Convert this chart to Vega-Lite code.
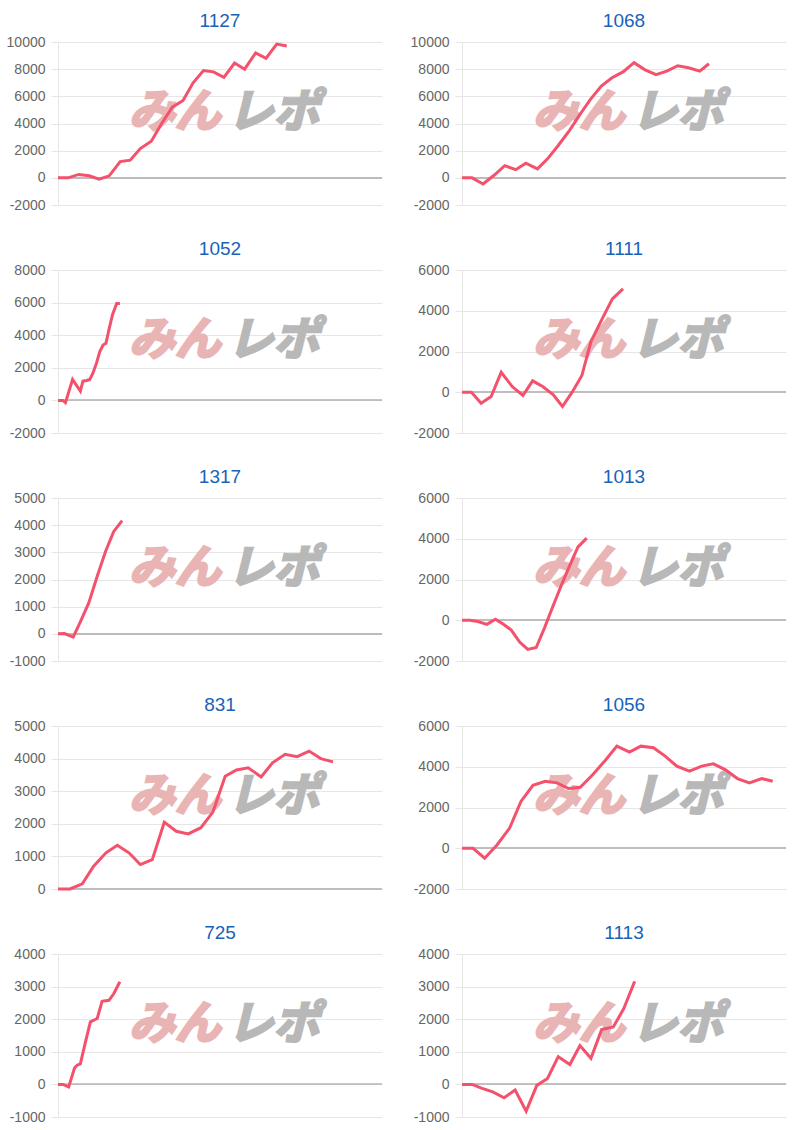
{
  "$schema": "https://vega.github.io/schema/vega-lite/v6.json",
  "padding": {"left": 5, "top": 12, "right": 5, "bottom": 0},
  "columns": 2,
  "spacing": {"row": 28, "column": 26},
  "data": {"values": [
    {"id":"1127","pos":0,"v":0},{"id":"1127","pos":3.1,"v":0},{"id":"1127","pos":6.4,"v":250},{"id":"1127","pos":9.6,"v":150},{"id":"1127","pos":12.7,"v":-100},{"id":"1127","pos":15.8,"v":150},{"id":"1127","pos":19.2,"v":1200},{"id":"1127","pos":22.3,"v":1300},{"id":"1127","pos":25.4,"v":2150},{"id":"1127","pos":28.8,"v":2700},{"id":"1127","pos":32.0,"v":4000},{"id":"1127","pos":35.3,"v":5200},{"id":"1127","pos":38.6,"v":5700},{"id":"1127","pos":41.7,"v":7000},{"id":"1127","pos":44.9,"v":7900},{"id":"1127","pos":48.0,"v":7800},{"id":"1127","pos":51.2,"v":7400},{"id":"1127","pos":54.5,"v":8450},{"id":"1127","pos":57.6,"v":8000},{"id":"1127","pos":61.0,"v":9200},{"id":"1127","pos":64.2,"v":8800},{"id":"1127","pos":67.5,"v":9850},{"id":"1127","pos":70.6,"v":9700},
    {"id":"1068","pos":0,"v":0},{"id":"1068","pos":3.1,"v":0},{"id":"1068","pos":6.5,"v":-450},{"id":"1068","pos":9.8,"v":170},{"id":"1068","pos":13.2,"v":900},{"id":"1068","pos":16.6,"v":600},{"id":"1068","pos":19.7,"v":1080},{"id":"1068","pos":23.3,"v":660},{"id":"1068","pos":26.4,"v":1400},{"id":"1068","pos":29.7,"v":2380},{"id":"1068","pos":33.2,"v":3500},{"id":"1068","pos":36.5,"v":4700},{"id":"1068","pos":39.7,"v":5800},{"id":"1068","pos":43.0,"v":6750},{"id":"1068","pos":46.3,"v":7370},{"id":"1068","pos":49.7,"v":7800},{"id":"1068","pos":53.1,"v":8480},{"id":"1068","pos":56.5,"v":7950},{"id":"1068","pos":59.9,"v":7600},{"id":"1068","pos":63.2,"v":7850},{"id":"1068","pos":66.6,"v":8250},{"id":"1068","pos":69.9,"v":8100},{"id":"1068","pos":73.4,"v":7850},{"id":"1068","pos":76.2,"v":8400},
    {"id":"1052","pos":0,"v":0},{"id":"1052","pos":1.5,"v":0},{"id":"1052","pos":2.3,"v":-140},{"id":"1052","pos":4.5,"v":1280},{"id":"1052","pos":6.9,"v":570},{"id":"1052","pos":7.7,"v":1180},{"id":"1052","pos":8.8,"v":1220},{"id":"1052","pos":9.8,"v":1280},{"id":"1052","pos":10.8,"v":1685},{"id":"1052","pos":11.9,"v":2300},{"id":"1052","pos":12.9,"v":3000},{"id":"1052","pos":13.9,"v":3400},{"id":"1052","pos":14.8,"v":3500},{"id":"1052","pos":15.8,"v":4400},{"id":"1052","pos":16.8,"v":5240},{"id":"1052","pos":18.1,"v":5950},{"id":"1052","pos":19.1,"v":5950},
    {"id":"1111","pos":0,"v":0},{"id":"1111","pos":2.9,"v":0},{"id":"1111","pos":5.9,"v":-540},{"id":"1111","pos":9.0,"v":-210},{"id":"1111","pos":12.1,"v":980},{"id":"1111","pos":15.5,"v":280},{"id":"1111","pos":18.8,"v":-160},{"id":"1111","pos":21.8,"v":560},{"id":"1111","pos":24.9,"v":280},{"id":"1111","pos":28.2,"v":-130},{"id":"1111","pos":31.0,"v":-700},{"id":"1111","pos":34.1,"v":30},{"id":"1111","pos":37.0,"v":820},{"id":"1111","pos":39.8,"v":2490},{"id":"1111","pos":43.1,"v":3550},{"id":"1111","pos":46.4,"v":4580},{"id":"1111","pos":49.7,"v":5070},
    {"id":"1317","pos":0,"v":0},{"id":"1317","pos":2.0,"v":10},{"id":"1317","pos":4.7,"v":-120},{"id":"1317","pos":7.0,"v":470},{"id":"1317","pos":9.5,"v":1140},{"id":"1317","pos":12.1,"v":2120},{"id":"1317","pos":14.7,"v":3040},{"id":"1317","pos":17.2,"v":3770},{"id":"1317","pos":19.8,"v":4170},
    {"id":"1013","pos":0,"v":0},{"id":"1013","pos":2.4,"v":0},{"id":"1013","pos":4.9,"v":-60},{"id":"1013","pos":7.7,"v":-200},{"id":"1013","pos":10.3,"v":50},{"id":"1013","pos":12.8,"v":-200},{"id":"1013","pos":15.2,"v":-480},{"id":"1013","pos":17.8,"v":-1070},{"id":"1013","pos":20.3,"v":-1430},{"id":"1013","pos":22.9,"v":-1340},{"id":"1013","pos":25.5,"v":-360},{"id":"1013","pos":28.1,"v":700},{"id":"1013","pos":30.6,"v":1690},{"id":"1013","pos":33.2,"v":2670},{"id":"1013","pos":35.8,"v":3600},{"id":"1013","pos":38.5,"v":4030},
    {"id":"831","pos":0,"v":0},{"id":"831","pos":3.7,"v":0},{"id":"831","pos":7.5,"v":160},{"id":"831","pos":11.0,"v":700},{"id":"831","pos":14.8,"v":1110},{"id":"831","pos":18.3,"v":1340},{"id":"831","pos":21.9,"v":1110},{"id":"831","pos":25.4,"v":750},{"id":"831","pos":29.1,"v":900},{"id":"831","pos":32.8,"v":2050},{"id":"831","pos":36.5,"v":1770},{"id":"831","pos":40.2,"v":1690},{"id":"831","pos":44.1,"v":1880},{"id":"831","pos":47.8,"v":2360},{"id":"831","pos":51.6,"v":3460},{"id":"831","pos":55.1,"v":3650},{"id":"831","pos":58.7,"v":3720},{"id":"831","pos":62.7,"v":3440},{"id":"831","pos":66.2,"v":3870},{"id":"831","pos":70.1,"v":4130},{"id":"831","pos":73.8,"v":4060},{"id":"831","pos":77.5,"v":4230},{"id":"831","pos":81.1,"v":4000},{"id":"831","pos":84.9,"v":3900},
    {"id":"1056","pos":0,"v":0},{"id":"1056","pos":3.4,"v":0},{"id":"1056","pos":7.0,"v":-490},{"id":"1056","pos":10.8,"v":160},{"id":"1056","pos":14.7,"v":990},{"id":"1056","pos":18.2,"v":2300},{"id":"1056","pos":21.9,"v":3090},{"id":"1056","pos":25.7,"v":3290},{"id":"1056","pos":29.3,"v":3210},{"id":"1056","pos":32.9,"v":2930},{"id":"1056","pos":36.5,"v":2990},{"id":"1056","pos":40.4,"v":3620},{"id":"1056","pos":44.2,"v":4310},{"id":"1056","pos":47.8,"v":5010},{"id":"1056","pos":51.7,"v":4720},{"id":"1056","pos":55.2,"v":5010},{"id":"1056","pos":59.1,"v":4930},{"id":"1056","pos":62.7,"v":4520},{"id":"1056","pos":66.3,"v":4030},{"id":"1056","pos":70.2,"v":3780},{"id":"1056","pos":74.0,"v":4030},{"id":"1056","pos":77.6,"v":4140},{"id":"1056","pos":81.2,"v":3860},{"id":"1056","pos":85.0,"v":3420},{"id":"1056","pos":88.7,"v":3210},{"id":"1056","pos":92.5,"v":3420},{"id":"1056","pos":95.9,"v":3290},
    {"id":"725","pos":0,"v":0},{"id":"725","pos":1.55,"v":0},{"id":"725","pos":3.3,"v":-80},{"id":"725","pos":5.1,"v":500},{"id":"725","pos":5.9,"v":590},{"id":"725","pos":6.9,"v":630},{"id":"725","pos":8.5,"v":1310},{"id":"725","pos":10.0,"v":1920},{"id":"725","pos":12.1,"v":2020},{"id":"725","pos":13.6,"v":2550},{"id":"725","pos":15.7,"v":2580},{"id":"725","pos":17.2,"v":2780},{"id":"725","pos":19.1,"v":3150},
    {"id":"1113","pos":0,"v":0},{"id":"1113","pos":3.1,"v":0},{"id":"1113","pos":6.2,"v":-120},{"id":"1113","pos":9.5,"v":-230},{"id":"1113","pos":13.0,"v":-410},{"id":"1113","pos":16.4,"v":-170},{"id":"1113","pos":19.8,"v":-820},{"id":"1113","pos":23.1,"v":-30},{"id":"1113","pos":26.4,"v":180},{"id":"1113","pos":29.7,"v":850},{"id":"1113","pos":33.3,"v":610},{"id":"1113","pos":36.4,"v":1190},{"id":"1113","pos":39.8,"v":800},{"id":"1113","pos":43.1,"v":1680},{"id":"1113","pos":46.7,"v":1760},{"id":"1113","pos":49.9,"v":2320},{"id":"1113","pos":53.3,"v":3160}
  ]},
  "concat": [
    {"title": "1127", "transform": [{"filter": "datum.id === '1127'"}], "layer": [
      {"transform": [{"filter": "datum.pos === 0"}], "mark": {"type": "text", "text": "みん", "font": "Noto Sans CJK JP", "fontSize": 46, "fontWeight": "bold", "fontStyle": "italic", "color": "#e9b4b4", "stroke": "#e9b4b4", "strokeWidth": 2.5, "baseline": "middle", "align": "center"}, "encoding": {"x": {"datum": 36, "type": "quantitative", "axis": null}, "y": {"datum": 4768, "type": "quantitative"}}},
      {"transform": [{"filter": "datum.pos === 0"}], "mark": {"type": "text", "text": "レポ", "font": "Noto Sans CJK JP", "fontSize": 46, "fontWeight": "bold", "fontStyle": "italic", "color": "#b8b8b8", "stroke": "#b8b8b8", "strokeWidth": 2.5, "baseline": "middle", "align": "center"}, "encoding": {"x": {"datum": 66.5, "type": "quantitative", "axis": null}, "y": {"datum": 4768, "type": "quantitative"}}},
      {"mark": {"type": "rule", "color": "#bdbdbd", "strokeWidth": 1}, "encoding": {"y": {"datum": 0, "type": "quantitative"}}},
      {"mark": {"type": "line", "color": "#f4516c", "strokeWidth": 3}, "encoding": {"x": {"field": "pos", "type": "quantitative", "scale": {"domain": [0, 100]}, "axis": null}, "y": {"field": "v", "type": "quantitative", "title": null, "scale": {"domain": [-2000, 10000], "nice": false, "zero": false}, "axis": {"values": [-2000, 0, 2000, 4000, 6000, 8000, 10000]}}}}
    ]},
    {"title": "1068", "transform": [{"filter": "datum.id === '1068'"}], "layer": [
      {"transform": [{"filter": "datum.pos === 0"}], "mark": {"type": "text", "text": "みん", "font": "Noto Sans CJK JP", "fontSize": 46, "fontWeight": "bold", "fontStyle": "italic", "color": "#e9b4b4", "stroke": "#e9b4b4", "strokeWidth": 2.5, "baseline": "middle", "align": "center"}, "encoding": {"x": {"datum": 36, "type": "quantitative", "axis": null}, "y": {"datum": 4768, "type": "quantitative"}}},
      {"transform": [{"filter": "datum.pos === 0"}], "mark": {"type": "text", "text": "レポ", "font": "Noto Sans CJK JP", "fontSize": 46, "fontWeight": "bold", "fontStyle": "italic", "color": "#b8b8b8", "stroke": "#b8b8b8", "strokeWidth": 2.5, "baseline": "middle", "align": "center"}, "encoding": {"x": {"datum": 66.5, "type": "quantitative", "axis": null}, "y": {"datum": 4768, "type": "quantitative"}}},
      {"mark": {"type": "rule", "color": "#bdbdbd", "strokeWidth": 1}, "encoding": {"y": {"datum": 0, "type": "quantitative"}}},
      {"mark": {"type": "line", "color": "#f4516c", "strokeWidth": 3}, "encoding": {"x": {"field": "pos", "type": "quantitative", "scale": {"domain": [0, 100]}, "axis": null}, "y": {"field": "v", "type": "quantitative", "title": null, "scale": {"domain": [-2000, 10000], "nice": false, "zero": false}, "axis": {"values": [-2000, 0, 2000, 4000, 6000, 8000, 10000]}}}}
    ]},
    {"title": "1052", "transform": [{"filter": "datum.id === '1052'"}], "layer": [
      {"transform": [{"filter": "datum.pos === 0"}], "mark": {"type": "text", "text": "みん", "font": "Noto Sans CJK JP", "fontSize": 46, "fontWeight": "bold", "fontStyle": "italic", "color": "#e9b4b4", "stroke": "#e9b4b4", "strokeWidth": 2.5, "baseline": "middle", "align": "center"}, "encoding": {"x": {"datum": 36, "type": "quantitative", "axis": null}, "y": {"datum": 3640, "type": "quantitative"}}},
      {"transform": [{"filter": "datum.pos === 0"}], "mark": {"type": "text", "text": "レポ", "font": "Noto Sans CJK JP", "fontSize": 46, "fontWeight": "bold", "fontStyle": "italic", "color": "#b8b8b8", "stroke": "#b8b8b8", "strokeWidth": 2.5, "baseline": "middle", "align": "center"}, "encoding": {"x": {"datum": 66.5, "type": "quantitative", "axis": null}, "y": {"datum": 3640, "type": "quantitative"}}},
      {"mark": {"type": "rule", "color": "#bdbdbd", "strokeWidth": 1}, "encoding": {"y": {"datum": 0, "type": "quantitative"}}},
      {"mark": {"type": "line", "color": "#f4516c", "strokeWidth": 3}, "encoding": {"x": {"field": "pos", "type": "quantitative", "scale": {"domain": [0, 100]}, "axis": null}, "y": {"field": "v", "type": "quantitative", "title": null, "scale": {"domain": [-2000, 8000], "nice": false, "zero": false}, "axis": {"values": [-2000, 0, 2000, 4000, 6000, 8000]}}}}
    ]},
    {"title": "1111", "transform": [{"filter": "datum.id === '1111'"}], "layer": [
      {"transform": [{"filter": "datum.pos === 0"}], "mark": {"type": "text", "text": "みん", "font": "Noto Sans CJK JP", "fontSize": 46, "fontWeight": "bold", "fontStyle": "italic", "color": "#e9b4b4", "stroke": "#e9b4b4", "strokeWidth": 2.5, "baseline": "middle", "align": "center"}, "encoding": {"x": {"datum": 36, "type": "quantitative", "axis": null}, "y": {"datum": 2512, "type": "quantitative"}}},
      {"transform": [{"filter": "datum.pos === 0"}], "mark": {"type": "text", "text": "レポ", "font": "Noto Sans CJK JP", "fontSize": 46, "fontWeight": "bold", "fontStyle": "italic", "color": "#b8b8b8", "stroke": "#b8b8b8", "strokeWidth": 2.5, "baseline": "middle", "align": "center"}, "encoding": {"x": {"datum": 66.5, "type": "quantitative", "axis": null}, "y": {"datum": 2512, "type": "quantitative"}}},
      {"mark": {"type": "rule", "color": "#bdbdbd", "strokeWidth": 1}, "encoding": {"y": {"datum": 0, "type": "quantitative"}}},
      {"mark": {"type": "line", "color": "#f4516c", "strokeWidth": 3}, "encoding": {"x": {"field": "pos", "type": "quantitative", "scale": {"domain": [0, 100]}, "axis": null}, "y": {"field": "v", "type": "quantitative", "title": null, "scale": {"domain": [-2000, 6000], "nice": false, "zero": false}, "axis": {"values": [-2000, 0, 2000, 4000, 6000]}}}}
    ]},
    {"title": "1317", "transform": [{"filter": "datum.id === '1317'"}], "layer": [
      {"transform": [{"filter": "datum.pos === 0"}], "mark": {"type": "text", "text": "みん", "font": "Noto Sans CJK JP", "fontSize": 46, "fontWeight": "bold", "fontStyle": "italic", "color": "#e9b4b4", "stroke": "#e9b4b4", "strokeWidth": 2.5, "baseline": "middle", "align": "center"}, "encoding": {"x": {"datum": 36, "type": "quantitative", "axis": null}, "y": {"datum": 2384, "type": "quantitative"}}},
      {"transform": [{"filter": "datum.pos === 0"}], "mark": {"type": "text", "text": "レポ", "font": "Noto Sans CJK JP", "fontSize": 46, "fontWeight": "bold", "fontStyle": "italic", "color": "#b8b8b8", "stroke": "#b8b8b8", "strokeWidth": 2.5, "baseline": "middle", "align": "center"}, "encoding": {"x": {"datum": 66.5, "type": "quantitative", "axis": null}, "y": {"datum": 2384, "type": "quantitative"}}},
      {"mark": {"type": "rule", "color": "#bdbdbd", "strokeWidth": 1}, "encoding": {"y": {"datum": 0, "type": "quantitative"}}},
      {"mark": {"type": "line", "color": "#f4516c", "strokeWidth": 3}, "encoding": {"x": {"field": "pos", "type": "quantitative", "scale": {"domain": [0, 100]}, "axis": null}, "y": {"field": "v", "type": "quantitative", "title": null, "scale": {"domain": [-1000, 5000], "nice": false, "zero": false}, "axis": {"values": [-1000, 0, 1000, 2000, 3000, 4000, 5000]}}}}
    ]},
    {"title": "1013", "transform": [{"filter": "datum.id === '1013'"}], "layer": [
      {"transform": [{"filter": "datum.pos === 0"}], "mark": {"type": "text", "text": "みん", "font": "Noto Sans CJK JP", "fontSize": 46, "fontWeight": "bold", "fontStyle": "italic", "color": "#e9b4b4", "stroke": "#e9b4b4", "strokeWidth": 2.5, "baseline": "middle", "align": "center"}, "encoding": {"x": {"datum": 36, "type": "quantitative", "axis": null}, "y": {"datum": 2512, "type": "quantitative"}}},
      {"transform": [{"filter": "datum.pos === 0"}], "mark": {"type": "text", "text": "レポ", "font": "Noto Sans CJK JP", "fontSize": 46, "fontWeight": "bold", "fontStyle": "italic", "color": "#b8b8b8", "stroke": "#b8b8b8", "strokeWidth": 2.5, "baseline": "middle", "align": "center"}, "encoding": {"x": {"datum": 66.5, "type": "quantitative", "axis": null}, "y": {"datum": 2512, "type": "quantitative"}}},
      {"mark": {"type": "rule", "color": "#bdbdbd", "strokeWidth": 1}, "encoding": {"y": {"datum": 0, "type": "quantitative"}}},
      {"mark": {"type": "line", "color": "#f4516c", "strokeWidth": 3}, "encoding": {"x": {"field": "pos", "type": "quantitative", "scale": {"domain": [0, 100]}, "axis": null}, "y": {"field": "v", "type": "quantitative", "title": null, "scale": {"domain": [-2000, 6000], "nice": false, "zero": false}, "axis": {"values": [-2000, 0, 2000, 4000, 6000]}}}}
    ]},
    {"title": "831", "transform": [{"filter": "datum.id === '831'"}], "layer": [
      {"transform": [{"filter": "datum.pos === 0"}], "mark": {"type": "text", "text": "みん", "font": "Noto Sans CJK JP", "fontSize": 46, "fontWeight": "bold", "fontStyle": "italic", "color": "#e9b4b4", "stroke": "#e9b4b4", "strokeWidth": 2.5, "baseline": "middle", "align": "center"}, "encoding": {"x": {"datum": 36, "type": "quantitative", "axis": null}, "y": {"datum": 2820, "type": "quantitative"}}},
      {"transform": [{"filter": "datum.pos === 0"}], "mark": {"type": "text", "text": "レポ", "font": "Noto Sans CJK JP", "fontSize": 46, "fontWeight": "bold", "fontStyle": "italic", "color": "#b8b8b8", "stroke": "#b8b8b8", "strokeWidth": 2.5, "baseline": "middle", "align": "center"}, "encoding": {"x": {"datum": 66.5, "type": "quantitative", "axis": null}, "y": {"datum": 2820, "type": "quantitative"}}},
      {"mark": {"type": "rule", "color": "#bdbdbd", "strokeWidth": 1}, "encoding": {"y": {"datum": 0, "type": "quantitative"}}},
      {"mark": {"type": "line", "color": "#f4516c", "strokeWidth": 3}, "encoding": {"x": {"field": "pos", "type": "quantitative", "scale": {"domain": [0, 100]}, "axis": null}, "y": {"field": "v", "type": "quantitative", "title": null, "scale": {"domain": [0, 5000], "nice": false, "zero": false}, "axis": {"values": [0, 1000, 2000, 3000, 4000, 5000]}}}}
    ]},
    {"title": "1056", "transform": [{"filter": "datum.id === '1056'"}], "layer": [
      {"transform": [{"filter": "datum.pos === 0"}], "mark": {"type": "text", "text": "みん", "font": "Noto Sans CJK JP", "fontSize": 46, "fontWeight": "bold", "fontStyle": "italic", "color": "#e9b4b4", "stroke": "#e9b4b4", "strokeWidth": 2.5, "baseline": "middle", "align": "center"}, "encoding": {"x": {"datum": 36, "type": "quantitative", "axis": null}, "y": {"datum": 2512, "type": "quantitative"}}},
      {"transform": [{"filter": "datum.pos === 0"}], "mark": {"type": "text", "text": "レポ", "font": "Noto Sans CJK JP", "fontSize": 46, "fontWeight": "bold", "fontStyle": "italic", "color": "#b8b8b8", "stroke": "#b8b8b8", "strokeWidth": 2.5, "baseline": "middle", "align": "center"}, "encoding": {"x": {"datum": 66.5, "type": "quantitative", "axis": null}, "y": {"datum": 2512, "type": "quantitative"}}},
      {"mark": {"type": "rule", "color": "#bdbdbd", "strokeWidth": 1}, "encoding": {"y": {"datum": 0, "type": "quantitative"}}},
      {"mark": {"type": "line", "color": "#f4516c", "strokeWidth": 3}, "encoding": {"x": {"field": "pos", "type": "quantitative", "scale": {"domain": [0, 100]}, "axis": null}, "y": {"field": "v", "type": "quantitative", "title": null, "scale": {"domain": [-2000, 6000], "nice": false, "zero": false}, "axis": {"values": [-2000, 0, 2000, 4000, 6000]}}}}
    ]},
    {"title": "725", "transform": [{"filter": "datum.id === '725'"}], "layer": [
      {"transform": [{"filter": "datum.pos === 0"}], "mark": {"type": "text", "text": "みん", "font": "Noto Sans CJK JP", "fontSize": 46, "fontWeight": "bold", "fontStyle": "italic", "color": "#e9b4b4", "stroke": "#e9b4b4", "strokeWidth": 2.5, "baseline": "middle", "align": "center"}, "encoding": {"x": {"datum": 36, "type": "quantitative", "axis": null}, "y": {"datum": 1820, "type": "quantitative"}}},
      {"transform": [{"filter": "datum.pos === 0"}], "mark": {"type": "text", "text": "レポ", "font": "Noto Sans CJK JP", "fontSize": 46, "fontWeight": "bold", "fontStyle": "italic", "color": "#b8b8b8", "stroke": "#b8b8b8", "strokeWidth": 2.5, "baseline": "middle", "align": "center"}, "encoding": {"x": {"datum": 66.5, "type": "quantitative", "axis": null}, "y": {"datum": 1820, "type": "quantitative"}}},
      {"mark": {"type": "rule", "color": "#bdbdbd", "strokeWidth": 1}, "encoding": {"y": {"datum": 0, "type": "quantitative"}}},
      {"mark": {"type": "line", "color": "#f4516c", "strokeWidth": 3}, "encoding": {"x": {"field": "pos", "type": "quantitative", "scale": {"domain": [0, 100]}, "axis": null}, "y": {"field": "v", "type": "quantitative", "title": null, "scale": {"domain": [-1000, 4000], "nice": false, "zero": false}, "axis": {"values": [-1000, 0, 1000, 2000, 3000, 4000]}}}}
    ]},
    {"title": "1113", "transform": [{"filter": "datum.id === '1113'"}], "layer": [
      {"transform": [{"filter": "datum.pos === 0"}], "mark": {"type": "text", "text": "みん", "font": "Noto Sans CJK JP", "fontSize": 46, "fontWeight": "bold", "fontStyle": "italic", "color": "#e9b4b4", "stroke": "#e9b4b4", "strokeWidth": 2.5, "baseline": "middle", "align": "center"}, "encoding": {"x": {"datum": 36, "type": "quantitative", "axis": null}, "y": {"datum": 1820, "type": "quantitative"}}},
      {"transform": [{"filter": "datum.pos === 0"}], "mark": {"type": "text", "text": "レポ", "font": "Noto Sans CJK JP", "fontSize": 46, "fontWeight": "bold", "fontStyle": "italic", "color": "#b8b8b8", "stroke": "#b8b8b8", "strokeWidth": 2.5, "baseline": "middle", "align": "center"}, "encoding": {"x": {"datum": 66.5, "type": "quantitative", "axis": null}, "y": {"datum": 1820, "type": "quantitative"}}},
      {"mark": {"type": "rule", "color": "#bdbdbd", "strokeWidth": 1}, "encoding": {"y": {"datum": 0, "type": "quantitative"}}},
      {"mark": {"type": "line", "color": "#f4516c", "strokeWidth": 3}, "encoding": {"x": {"field": "pos", "type": "quantitative", "scale": {"domain": [0, 100]}, "axis": null}, "y": {"field": "v", "type": "quantitative", "title": null, "scale": {"domain": [-1000, 4000], "nice": false, "zero": false}, "axis": {"values": [-1000, 0, 1000, 2000, 3000, 4000]}}}}
    ]}
  ],
  "config": {
    "view": {"stroke": null, "continuousWidth": 324, "continuousHeight": 163},
    "font": "Liberation Sans",
    "title": {"fontSize": 19, "fontWeight": "normal", "color": "#1a62b8", "offset": 4, "font": "Liberation Sans"},
    "axis": {"grid": true, "tickCount": 12, "labelFontSize": 14, "labelColor": "#666666", "labelFont": "Liberation Sans", "labelOverlap": false, "labelExpr": "'' + datum.value", "gridColor": "#e6e6e6", "domainColor": "#e6e6e6", "tickColor": "#e6e6e6", "tickSize": 7, "labelPadding": 6, "minExtent": 53, "maxExtent": 53}
  }
}
